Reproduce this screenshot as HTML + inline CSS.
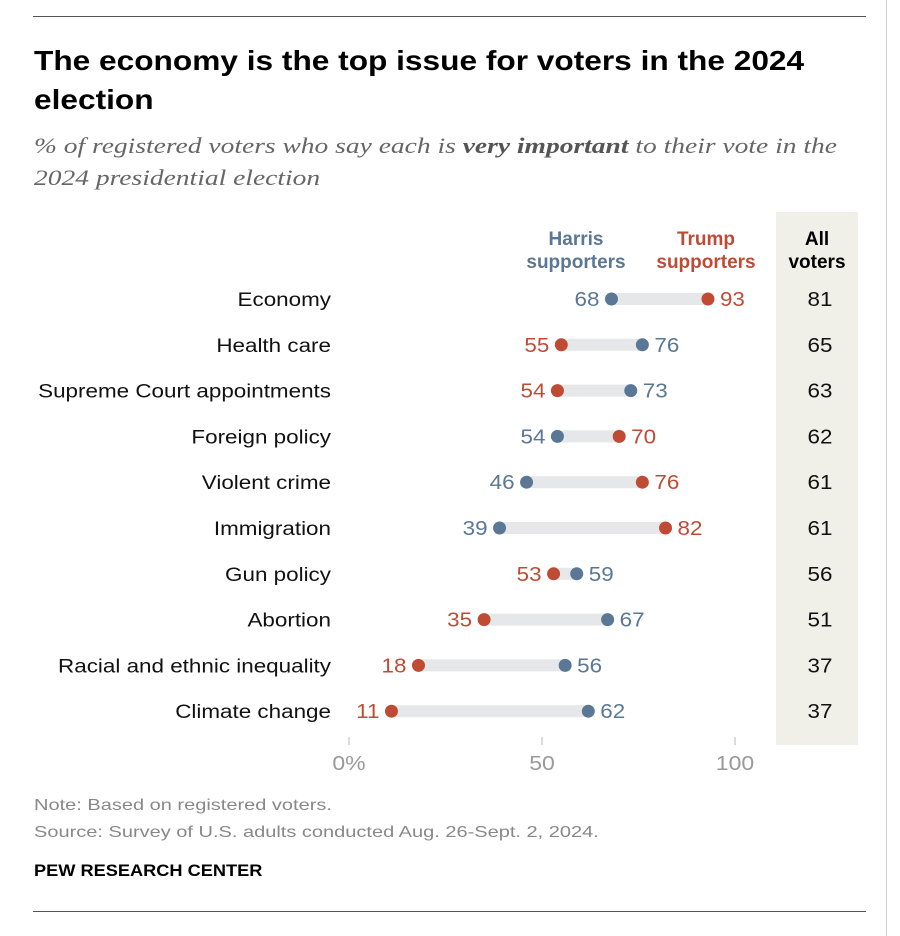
<!DOCTYPE html>
<html><head><meta charset="utf-8"><style>
body{margin:0;background:#fff;width:900px;height:936px;overflow:hidden;font-family:"Liberation Sans",sans-serif;}
svg{display:block}
</style></head><body>
<svg width="900" height="936" id="c">
<line x1="33" y1="16.5" x2="866" y2="16.5" stroke="#555" stroke-width="1"/>
<line x1="886.5" y1="0" x2="886.5" y2="936" stroke="#ccc" stroke-width="1"/>
<text x="34" y="70" font-size="28" font-weight="bold" fill="#000" data-s="1.13">The economy is the top issue for voters in the 2024</text>
<text x="34" y="109" font-size="28" font-weight="bold" fill="#000" data-s="1.13">election</text>
<text x="34" y="153" font-family="Liberation Serif" font-style="italic" font-size="22" fill="#666" data-s="1.25">% of registered voters who say each is <tspan font-weight="bold" fill="#555">very important</tspan> to their vote in the</text>
<text x="34" y="185" font-family="Liberation Serif" font-style="italic" font-size="22" fill="#666" data-s="1.25">2024 presidential election</text>
<rect x="776" y="212" width="82" height="533" fill="#f0efe8"/>
<text x="576" y="245" font-size="19" font-weight="bold" fill="#5a7795" text-anchor="middle">Harris</text>
<text x="576" y="268" font-size="19" font-weight="bold" fill="#5a7795" text-anchor="middle">supporters</text>
<text x="706" y="245" font-size="19" font-weight="bold" fill="#bf4b35" text-anchor="middle">Trump</text>
<text x="706" y="268" font-size="19" font-weight="bold" fill="#bf4b35" text-anchor="middle">supporters</text>
<text x="817" y="245" font-size="19" font-weight="bold" fill="#000" text-anchor="middle">All</text>
<text x="817" y="268" font-size="19" font-weight="bold" fill="#000" text-anchor="middle">voters</text>
<g id="rows"></g>
<g id="axis"></g>
<text x="34" y="810" font-size="16" fill="#888" data-s="1.25">Note: Based on registered voters.</text>
<text x="34" y="837" font-size="16" fill="#888" data-s="1.25">Source: Survey of U.S. adults conducted Aug. 26-Sept. 2, 2024.</text>
<text x="34" y="876" font-size="17" font-weight="bold" fill="#000" data-s="1.07">PEW RESEARCH CENTER</text>
<line x1="33" y1="911.5" x2="866" y2="911.5" stroke="#555" stroke-width="1"/>
</svg>
<script>
const categories=["Economy","Health care","Supreme Court appointments","Foreign policy","Violent crime","Immigration","Gun policy","Abortion","Racial and ethnic inequality","Climate change"];
const harris=[68,76,73,54,46,39,59,67,56,62];
const trump=[93,55,54,70,76,82,53,35,18,11];
const allVoters=[81,65,63,62,61,61,56,51,37,37];
const ticks=[0,50,100];
const tickLabels=["0%","50","100"];
const NS="http://www.w3.org/2000/svg";
const x=v=>349+v*3.86;
const y=i=>299+i*45.8;
function mk(tag,at,parent,txt){const e=document.createElementNS(NS,tag);for(const k in at)e.setAttribute(k,at[k]);if(txt!==undefined)e.textContent=txt;parent.appendChild(e);return e;}
const rows=document.getElementById('rows');
const HC="#5a7795",TC="#bf4b35";
categories.forEach((c,i)=>{
  const g=mk('g',{},rows);
  
  
  const yy=y(i);
  const t=mk('text',{x:331,y:yy+7,'font-size':19,fill:'#111','text-anchor':'end','data-s':1.18},g,c);
  
  
  const lo=Math.min(harris[i],trump[i]),hi=Math.max(harris[i],trump[i]);
  const b=mk('rect',{x:x(lo),y:yy-6,width:x(hi)-x(lo),height:12,fill:'#e6e7e8'},g);
  
  
  [[harris[i],HC,'harris'],[trump[i],TC,'trump']].forEach(([v,col,nm])=>{
    const d=mk('circle',{cx:x(v),cy:yy,r:6.5,fill:col},g);
    
    
    const right=v===hi;
    const l=mk('text',{x:right?x(v)+12:x(v)-12,y:yy+7,'font-size':20,fill:col,'text-anchor':right?'start':'end','data-s':1.12},g,String(v));
    
    
  });
  const a=mk('text',{x:820,y:yy+7,'font-size':20,fill:'#111','text-anchor':'middle','data-s':1.12},g,String(allVoters[i]));
  
  
});
const ax=document.getElementById('axis');
ticks.forEach((v,i)=>{
  const l=mk('line',{x1:x(v),x2:x(v),y1:737,y2:745,stroke:'#bbb'},ax);
  
  
  const t=mk('text',{x:x(v),y:770,'font-size':20,fill:'#999','text-anchor':'middle','data-s':1.15},ax,tickLabels[i]);
  
  
});
document.querySelectorAll('text[data-s]').forEach(t=>{
  const w=t.getComputedTextLength()*parseFloat(t.getAttribute('data-s'));
  t.setAttribute('textLength',w);
  t.setAttribute('lengthAdjust','spacingAndGlyphs');
});
</script>
</body></html>
